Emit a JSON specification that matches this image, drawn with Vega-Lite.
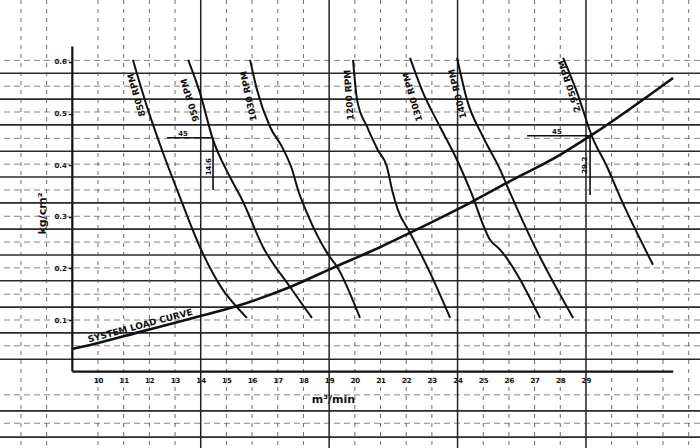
{
  "$schema": "https://vega.github.io/schema/vega-lite/v6.json",
  "autosize": "none",
  "width": 700,
  "height": 448,
  "padding": 0,
  "background": "white",
  "config": {
    "view": {"stroke": null},
    "axisY": {"offset": -72.3, "domain": false, "grid": false, "ticks": true, "tickSize": 4, "tickColor": "#111", "tickWidth": 1.5, "labelPadding": 2,
      "labelFont": "DejaVu Sans", "labelFontWeight": "bold", "labelFontSize": 7, "labelColor": "#111",
      "titleFont": "DejaVu Sans", "titleFontWeight": "bold", "titleFontSize": 11, "titleColor": "#111",
      "titleAngle": -90, "titleX": -30, "titleY": 213, "titleAlign": "center", "titleBaseline": "middle"},
    "axisX": {"offset": -76.4, "domain": false, "grid": false, "ticks": false, "labelPadding": 5,
      "labelFont": "DejaVu Sans", "labelFontWeight": "bold", "labelFontSize": 7, "labelColor": "#111",
      "titleFont": "DejaVu Sans", "titleFontWeight": "bold", "titleFontSize": 11, "titleColor": "#111",
      "titleX": 333, "titleY": 28, "titleAlign": "center", "titleBaseline": "middle"}
  },
  "datasets": {
    "hmajor": [{"y": 0.578}, {"y": 0.528}, {"y": 0.478}, {"y": 0.427}, {"y": 0.377}, {"y": 0.327}, {"y": 0.276}, {"y": 0.226}, {"y": 0.176}, {"y": 0.125}, {"y": 0.075}, {"y": 0.024}, {"y": -0.076}, {"y": -0.127}],
    "hminor": [{"y": 0.603}, {"y": 0.553}, {"y": 0.503}, {"y": 0.452}, {"y": 0.402}, {"y": 0.352}, {"y": 0.301}, {"y": 0.251}, {"y": 0.201}, {"y": 0.150}, {"y": 0.100}, {"y": 0.050}, {"y": -0.045}, {"y": -0.100}],
    "vminor": [{"x": 7}, {"x": 8}, {"x": 10}, {"x": 11}, {"x": 12}, {"x": 13}, {"x": 15}, {"x": 16}, {"x": 17}, {"x": 18}, {"x": 20}, {"x": 21}, {"x": 22}, {"x": 23}, {"x": 25}, {"x": 26}, {"x": 27}, {"x": 28}, {"x": 30}, {"x": 31}, {"x": 32}, {"x": 33}],
    "vmajor": [{"x": 14}, {"x": 19}, {"x": 24}, {"x": 29}],
    "axes": [{"x": 9, "x2": 9, "y": 0, "y2": 0.63}, {"x": 9, "x2": 32.4, "y": 0, "y2": 0}],
    "fans": [
      {"rpm": "850", "x": 11.36, "y": 0.604}, {"rpm": "850", "x": 11.91, "y": 0.513}, {"rpm": "850", "x": 12.53, "y": 0.424}, {"rpm": "850", "x": 13.19, "y": 0.338}, {"rpm": "850", "x": 13.97, "y": 0.241}, {"rpm": "850", "x": 14.87, "y": 0.158}, {"rpm": "850", "x": 15.41, "y": 0.125}, {"rpm": "850", "x": 15.80, "y": 0.104},
      {"rpm": "950", "x": 13.51, "y": 0.604}, {"rpm": "950", "x": 13.97, "y": 0.540}, {"rpm": "950", "x": 14.48, "y": 0.449}, {"rpm": "950", "x": 15.14, "y": 0.377}, {"rpm": "950", "x": 15.61, "y": 0.333}, {"rpm": "950", "x": 16.43, "y": 0.241}, {"rpm": "950", "x": 17.48, "y": 0.164}, {"rpm": "950", "x": 18.33, "y": 0.104},
      {"rpm": "1030", "x": 15.92, "y": 0.604}, {"rpm": "1030", "x": 16.19, "y": 0.546}, {"rpm": "1030", "x": 16.70, "y": 0.474}, {"rpm": "1030", "x": 17.17, "y": 0.435}, {"rpm": "1030", "x": 17.56, "y": 0.391}, {"rpm": "1030", "x": 17.79, "y": 0.352}, {"rpm": "1030", "x": 18.14, "y": 0.307}, {"rpm": "1030", "x": 18.92, "y": 0.230}, {"rpm": "1030", "x": 19.31, "y": 0.203}, {"rpm": "1030", "x": 20.20, "y": 0.104},
      {"rpm": "1200", "x": 19.93, "y": 0.604}, {"rpm": "1200", "x": 20.09, "y": 0.526}, {"rpm": "1200", "x": 20.48, "y": 0.474}, {"rpm": "1200", "x": 20.90, "y": 0.429}, {"rpm": "1200", "x": 21.25, "y": 0.397}, {"rpm": "1200", "x": 21.45, "y": 0.352}, {"rpm": "1200", "x": 21.68, "y": 0.313}, {"rpm": "1200", "x": 22.15, "y": 0.269}, {"rpm": "1200", "x": 23.01, "y": 0.183}, {"rpm": "1200", "x": 23.71, "y": 0.104},
      {"rpm": "1300", "x": 22.15, "y": 0.608}, {"rpm": "1300", "x": 22.66, "y": 0.540}, {"rpm": "1300", "x": 23.32, "y": 0.474}, {"rpm": "1300", "x": 23.98, "y": 0.410}, {"rpm": "1300", "x": 24.49, "y": 0.352}, {"rpm": "1300", "x": 25.27, "y": 0.255}, {"rpm": "1300", "x": 25.66, "y": 0.236}, {"rpm": "1300", "x": 27.21, "y": 0.104},
      {"rpm": "1400", "x": 23.98, "y": 0.608}, {"rpm": "1400", "x": 24.37, "y": 0.526}, {"rpm": "1400", "x": 24.99, "y": 0.455}, {"rpm": "1400", "x": 25.66, "y": 0.391}, {"rpm": "1400", "x": 26.12, "y": 0.338}, {"rpm": "1400", "x": 26.94, "y": 0.249}, {"rpm": "1400", "x": 28.50, "y": 0.104},
      {"rpm": "2950", "x": 28.11, "y": 0.608}, {"rpm": "2950", "x": 28.66, "y": 0.540}, {"rpm": "2950", "x": 29.24, "y": 0.455}, {"rpm": "2950", "x": 29.82, "y": 0.397}, {"rpm": "2950", "x": 30.33, "y": 0.338}, {"rpm": "2950", "x": 31.61, "y": 0.207}
    ],
    "system": [
      {"x": 8.99, "y": 0.044}, {"x": 9.81, "y": 0.053}, {"x": 11.64, "y": 0.077}, {"x": 13.70, "y": 0.104}, {"x": 15.41, "y": 0.127}, {"x": 17.48, "y": 0.164}, {"x": 19.23, "y": 0.203}, {"x": 20.98, "y": 0.241}, {"x": 22.15, "y": 0.269}, {"x": 24.56, "y": 0.329}, {"x": 25.93, "y": 0.366}, {"x": 27.99, "y": 0.420}, {"x": 29.24, "y": 0.459}, {"x": 32.39, "y": 0.569}
    ],
    "marks": [
      {"x": 12.69, "x2": 14.48, "y": 0.453, "y2": 0.453}, {"x": 14.48, "x2": 14.48, "y": 0.453, "y2": 0.352},
      {"x": 26.71, "x2": 29.16, "y": 0.457, "y2": 0.457}, {"x": 29.16, "x2": 29.16, "y": 0.457, "y2": 0.342}
    ],
    "rpmlabels": [
      {"label": "850 RPM", "x": 11.50, "y": 0.536, "a": -106},
      {"label": "950 RPM", "x": 13.58, "y": 0.526, "a": -107},
      {"label": "1030 RPM", "x": 15.86, "y": 0.534, "a": -102},
      {"label": "1200 RPM", "x": 19.77, "y": 0.536, "a": -94},
      {"label": "1300 RPM", "x": 22.25, "y": 0.532, "a": -106},
      {"label": "1400 RPM", "x": 24.00, "y": 0.538, "a": -104},
      {"label": "2,950 RPM", "x": 28.36, "y": 0.553, "a": -108}
    ],
    "small": [
      {"label": "45", "x": 13.31, "y": 0.461, "a": 0},
      {"label": "45", "x": 27.87, "y": 0.465, "a": 0},
      {"label": "14.6", "x": 14.32, "y": 0.397, "a": -90},
      {"label": "29.2", "x": 28.97, "y": 0.400, "a": -90}
    ],
    "syslabel": [{"label": "SYSTEM  LOAD  CURVE", "x": 11.64, "y": 0.089}]
  },
  "layer": [
    {
      "data": {"name": "hminor"},
      "mark": {"type": "rule", "color": "#666", "strokeWidth": 1, "strokeDash": [6, 4], "opacity": 0.8},
      "encoding": {
        "y": {"field": "y", "type": "quantitative", "scale": {"domain": [-0.148, 0.72], "nice": false, "zero": false},
          "axis": {"values": [0.1, 0.2, 0.3, 0.4, 0.5, 0.6], "format": ".1f", "title": "kg/cm²"}}
      }
    },
    {
      "data": {"name": "hmajor"},
      "mark": {"type": "rule", "color": "#2a2a2a", "strokeWidth": 1.6},
      "encoding": {
        "y": {"field": "y", "type": "quantitative", "scale": {"domain": [-0.148, 0.72], "nice": false, "zero": false},
          "axis": {"values": [0.1, 0.2, 0.3, 0.4, 0.5, 0.6], "format": ".1f", "title": "kg/cm²"}}
      }
    },
    {
      "data": {"name": "vminor"},
      "mark": {"type": "rule", "color": "#555", "strokeWidth": 1, "strokeDash": [4, 5], "opacity": 0.85},
      "encoding": {
        "x": {"field": "x", "type": "quantitative", "scale": {"domain": [6.184, 33.44], "nice": false, "zero": false},
          "axis": {"values": [10, 11, 12, 13, 14, 15, 16, 17, 18, 19, 20, 21, 22, 23, 24, 25, 26, 27, 28, 29], "title": "m³/min"}}
      }
    },
    {
      "data": {"name": "vmajor"},
      "mark": {"type": "rule", "color": "#222", "strokeWidth": 1.5},
      "encoding": {
        "x": {"field": "x", "type": "quantitative", "scale": {"domain": [6.184, 33.44], "nice": false, "zero": false},
          "axis": {"values": [10, 11, 12, 13, 14, 15, 16, 17, 18, 19, 20, 21, 22, 23, 24, 25, 26, 27, 28, 29], "title": "m³/min"}}
      }
    },
    {
      "data": {"name": "axes"},
      "mark": {"type": "rule", "color": "#111", "strokeWidth": 2.2},
      "encoding": {
        "x": {"field": "x", "type": "quantitative", "scale": {"domain": [6.184, 33.44], "nice": false, "zero": false},
          "axis": {"values": [10, 11, 12, 13, 14, 15, 16, 17, 18, 19, 20, 21, 22, 23, 24, 25, 26, 27, 28, 29], "title": "m³/min"}},
        "x2": {"field": "x2"},
        "y": {"field": "y", "type": "quantitative", "scale": {"domain": [-0.148, 0.72], "nice": false, "zero": false},
          "axis": {"values": [0.1, 0.2, 0.3, 0.4, 0.5, 0.6], "format": ".1f", "title": "kg/cm²"}},
        "y2": {"field": "y2"}
      }
    },
    {
      "data": {"name": "fans"},
      "mark": {"type": "line", "color": "#111", "strokeWidth": 2, "interpolate": "monotone"},
      "encoding": {
        "x": {"field": "x", "type": "quantitative", "scale": {"domain": [6.184, 33.44], "nice": false, "zero": false},
          "axis": {"values": [10, 11, 12, 13, 14, 15, 16, 17, 18, 19, 20, 21, 22, 23, 24, 25, 26, 27, 28, 29], "title": "m³/min"}},
        "y": {"field": "y", "type": "quantitative", "scale": {"domain": [-0.148, 0.72], "nice": false, "zero": false},
          "axis": {"values": [0.1, 0.2, 0.3, 0.4, 0.5, 0.6], "format": ".1f", "title": "kg/cm²"}},
        "detail": {"field": "rpm", "type": "nominal"}
      }
    },
    {
      "data": {"name": "system"},
      "mark": {"type": "line", "color": "#111", "strokeWidth": 2.6, "interpolate": "monotone"},
      "encoding": {
        "x": {"field": "x", "type": "quantitative", "scale": {"domain": [6.184, 33.44], "nice": false, "zero": false},
          "axis": {"values": [10, 11, 12, 13, 14, 15, 16, 17, 18, 19, 20, 21, 22, 23, 24, 25, 26, 27, 28, 29], "title": "m³/min"}},
        "y": {"field": "y", "type": "quantitative", "scale": {"domain": [-0.148, 0.72], "nice": false, "zero": false},
          "axis": {"values": [0.1, 0.2, 0.3, 0.4, 0.5, 0.6], "format": ".1f", "title": "kg/cm²"}}
      }
    },
    {
      "data": {"name": "marks"},
      "mark": {"type": "rule", "color": "#111", "strokeWidth": 1.6},
      "encoding": {
        "x": {"field": "x", "type": "quantitative", "scale": {"domain": [6.184, 33.44], "nice": false, "zero": false},
          "axis": {"values": [10, 11, 12, 13, 14, 15, 16, 17, 18, 19, 20, 21, 22, 23, 24, 25, 26, 27, 28, 29], "title": "m³/min"}},
        "x2": {"field": "x2"},
        "y": {"field": "y", "type": "quantitative", "scale": {"domain": [-0.148, 0.72], "nice": false, "zero": false},
          "axis": {"values": [0.1, 0.2, 0.3, 0.4, 0.5, 0.6], "format": ".1f", "title": "kg/cm²"}},
        "y2": {"field": "y2"}
      }
    },
    {
      "data": {"name": "rpmlabels"},
      "mark": {"type": "text", "font": "DejaVu Sans", "fontWeight": "bold", "fontSize": 9, "color": "#111", "align": "center", "baseline": "middle"},
      "encoding": {
        "x": {"field": "x", "type": "quantitative", "scale": {"domain": [6.184, 33.44], "nice": false, "zero": false},
          "axis": {"values": [10, 11, 12, 13, 14, 15, 16, 17, 18, 19, 20, 21, 22, 23, 24, 25, 26, 27, 28, 29], "title": "m³/min"}},
        "y": {"field": "y", "type": "quantitative", "scale": {"domain": [-0.148, 0.72], "nice": false, "zero": false},
          "axis": {"values": [0.1, 0.2, 0.3, 0.4, 0.5, 0.6], "format": ".1f", "title": "kg/cm²"}},
        "text": {"field": "label"},
        "angle": {"field": "a", "type": "quantitative", "scale": null}
      }
    },
    {
      "data": {"name": "small"},
      "mark": {"type": "text", "font": "DejaVu Sans", "fontWeight": "bold", "fontSize": 7, "color": "#111", "align": "center", "baseline": "middle"},
      "encoding": {
        "x": {"field": "x", "type": "quantitative", "scale": {"domain": [6.184, 33.44], "nice": false, "zero": false},
          "axis": {"values": [10, 11, 12, 13, 14, 15, 16, 17, 18, 19, 20, 21, 22, 23, 24, 25, 26, 27, 28, 29], "title": "m³/min"}},
        "y": {"field": "y", "type": "quantitative", "scale": {"domain": [-0.148, 0.72], "nice": false, "zero": false},
          "axis": {"values": [0.1, 0.2, 0.3, 0.4, 0.5, 0.6], "format": ".1f", "title": "kg/cm²"}},
        "text": {"field": "label"},
        "angle": {"field": "a", "type": "quantitative", "scale": null}
      }
    },
    {
      "data": {"name": "syslabel"},
      "mark": {"type": "text", "font": "DejaVu Sans", "fontWeight": "bold", "fontSize": 9, "color": "#111", "align": "center", "baseline": "middle", "angle": -15},
      "encoding": {
        "x": {"field": "x", "type": "quantitative", "scale": {"domain": [6.184, 33.44], "nice": false, "zero": false},
          "axis": {"values": [10, 11, 12, 13, 14, 15, 16, 17, 18, 19, 20, 21, 22, 23, 24, 25, 26, 27, 28, 29], "title": "m³/min"}},
        "y": {"field": "y", "type": "quantitative", "scale": {"domain": [-0.148, 0.72], "nice": false, "zero": false},
          "axis": {"values": [0.1, 0.2, 0.3, 0.4, 0.5, 0.6], "format": ".1f", "title": "kg/cm²"}},
        "text": {"field": "label"}
      }
    }
  ]
}
